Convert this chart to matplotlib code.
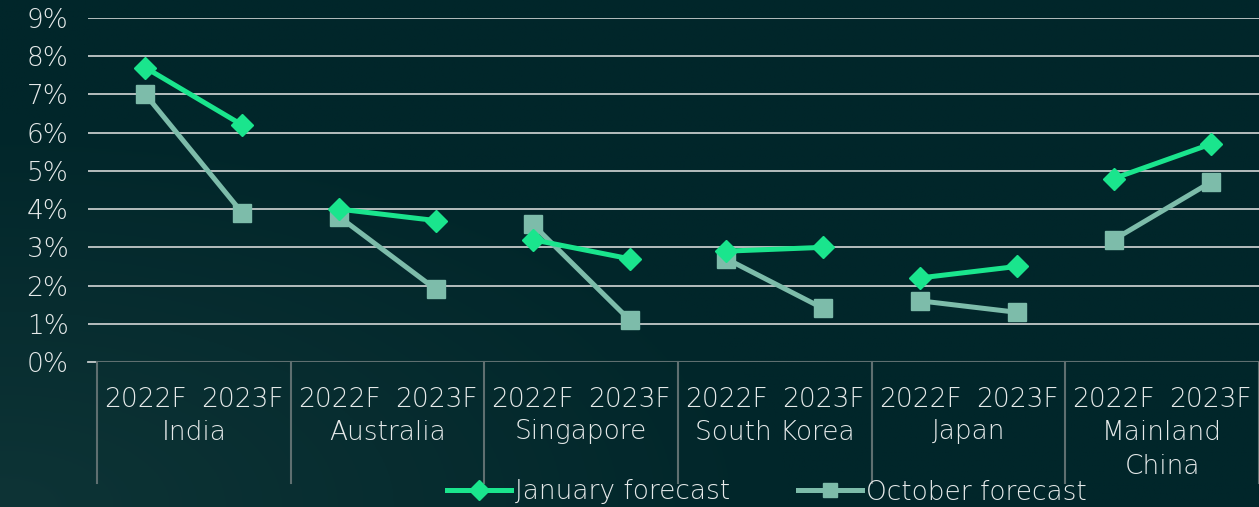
import matplotlib
matplotlib.use("Agg")
import matplotlib.pyplot as plt
import numpy as np

countries = ["India", "Australia", "Singapore", "South Korea", "Japan", "Mainland\nChina"]
years = ["2022F", "2023F"]
january = [7.7, 6.2, 4.0, 3.7, 3.2, 2.7, 2.9, 3.0, 2.2, 2.5, 4.8, 5.7]
october = [7.0, 3.9, 3.8, 1.9, 3.6, 1.1, 2.7, 1.4, 1.6, 1.3, 3.2, 4.7]

plt.rcParams["font.family"] = ["DejaVu Sans"]
plt.rcParams["font.weight"] = "light"
W, H = 1259, 507
bg = "#01262a"
txt = "#e6eaea"
c_jan = "#1ae58d"
c_oct = "#7dbcaa"
fs = 19

fig = plt.figure(figsize=(W / 100, H / 100), dpi=100, facecolor=bg)

# subtle lighter wash in the lower-left corner
bga = fig.add_axes([0, 0, 1, 1], zorder=-10)
yy, xx = np.mgrid[0:1:200j, 0:1:500j]
d = np.clip(1 - np.hypot(xx * 1.6, (1 - yy) * 1.3), 0, 1)
base = np.array([1, 38, 42]) / 255
light = np.array([14, 52, 54]) / 255
img = base + (light - base) * d[..., None]
bga.imshow(img, extent=[0, 1, 0, 1], aspect="auto", origin="upper")
bga.axis("off")

ax = fig.add_axes([88 / W, (H - 362) / H, (W - 88) / W, (362 - 18) / H])
ax.set_facecolor("none")
n = len(january)
x = np.arange(n)
ax.set_xlim(-0.5 - 9 / 96.8, n - 0.5)
ax.set_ylim(0, 9)

for s in ax.spines.values():
    s.set_visible(False)

for v in range(1, 10):
    ax.axhline(v, color="#c3c9c9", lw=1.3, zorder=1)
ax.axhline(0, color="#5f6f70", lw=1.5, zorder=1)
ax.plot([-0.5 - 9 / 96.8, -0.5], [0, 0], color="#c3c9c9", lw=1.3, clip_on=False)

for g in range(len(countries)):
    i = [2 * g, 2 * g + 1]
    ax.plot(x[i], [january[k] for k in i], color=c_jan, lw=3.6, marker="D",
            ms=11.5, zorder=4, label="January forecast" if g == 0 else None)
    ax.plot(x[i], [october[k] for k in i], color=c_oct, lw=3.6, marker="s",
            ms=12.5, zorder=3, label="October forecast" if g == 0 else None)

ax.set_yticks(range(10))
ax.set_yticklabels([f"{v}%" for v in range(10)])
ax.set_xticks(x)
ax.set_xticklabels(years * len(countries))
ax.tick_params(axis="both", length=0, labelsize=fs, colors=txt)
ax.tick_params(axis="y", pad=14)
ax.tick_params(axis="x", pad=18)

trans = ax.get_xaxis_transform()
px = 1 / (362 - 18)
for g, name in enumerate(countries):
    for k, line in enumerate(name.split("\n")):
        ax.text(2 * g + 0.5, -(432 + 35 * k - 362) * px, line, transform=trans,
                ha="center", va="center", fontsize=fs, color=txt)
for b in range(len(countries) + 1):
    ax.plot([b * 2 - 0.5] * 2, [0, -(483 - 362) * px], transform=trans,
            color="#5f6f70", lw=1.5, clip_on=False)

leg = fig.legend(loc="center", bbox_to_anchor=(767 / W, 1 - 492 / H), ncol=2,
                 frameon=False, fontsize=fs, labelcolor=txt, handlelength=2.4,
                 handletextpad=0.15, columnspacing=2.6, markerscale=0.85)

fig.savefig("out.png", dpi=100, facecolor=bg)
